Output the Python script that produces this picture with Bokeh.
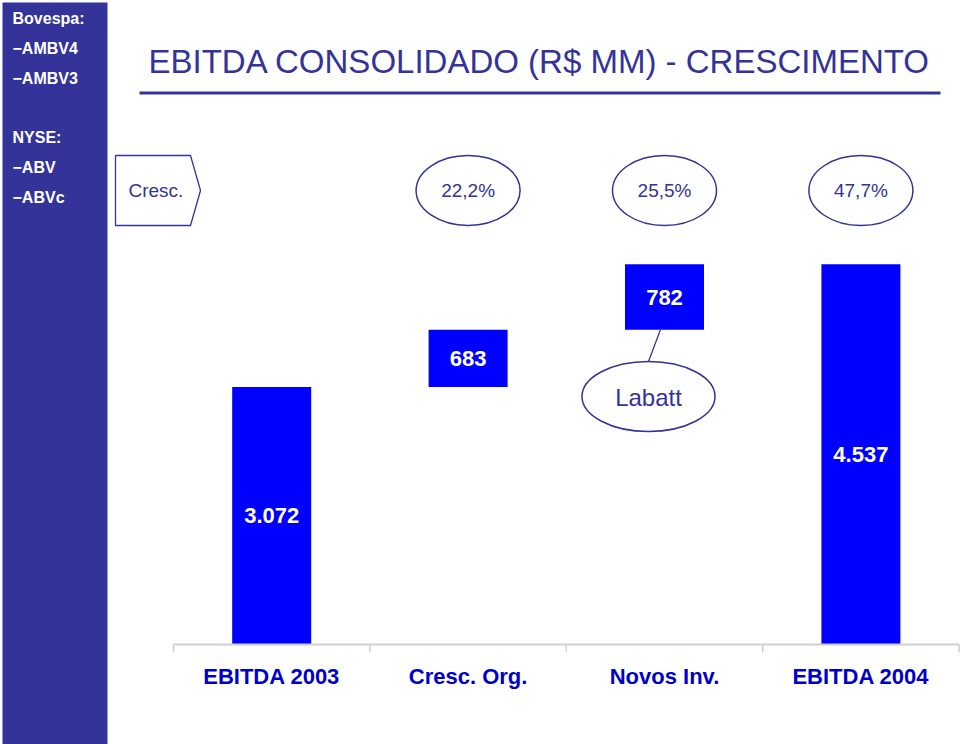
from bokeh.plotting import figure
from bokeh.models import Range1d
from bokeh.core.properties import value
from bokeh.embed import file_html
from bokeh.resources import INLINE

# ---------------- data ----------------
categories = ["EBITDA 2003", "Cresc. Org.", "Novos Inv.", "EBITDA 2004"]
values = [3072, 683, 782, 4537]
value_labels = ["3.072", "683", "782", "4.537"]
growth_labels = ["22,2%", "25,5%", "47,7%"]
title_text = "EBITDA CONSOLIDADO (R$ MM) - CRESCIMENTO"
bovespa = ["Bovespa:", "\u2212AMBV4", "\u2212AMBV3"]
nyse = ["NYSE:", "\u2212ABV", "\u2212ABVc"]
note_text = "Labatt"
row_label = "Cresc."

# waterfall bottoms / tops
bottoms, tops = [], []
running = 0
for i, v in enumerate(values):
    if i == 0 or i == len(values) - 1:
        bottoms.append(0)
        tops.append(v)
        running = v
    else:
        bottoms.append(running)
        running += v
        tops.append(running)
mids = [(b + t) / 2 for b, t in zip(bottoms, tops)]
xs = list(range(len(categories)))

# ---------------- layout (pixel geometry of the page) ----------------
W, H = 960, 744
OFF = 0
cat_w = 196.4          # px per category
x_center0 = 271.2      # page x of first category centre
base_y = 644           # page y of the value axis baseline
k = 0.0838             # px per unit (R$ MM)

x_start = (OFF - x_center0) / cat_w
x_end = (OFF + W - x_center0) / cat_w
y_start = (base_y - (OFF + H)) / k
y_end = (base_y - OFF) / k

p = figure(width=W, height=H, output_backend="svg", toolbar_location=None,
           x_range=Range1d(x_start, x_end), y_range=Range1d(y_start, y_end),
           x_axis_location=None, y_axis_location=None, min_border=0,
           background_fill_color="white", border_fill_color="white")
p.extra_x_ranges = {"px": Range1d(OFF, OFF + W)}
p.extra_y_ranges = {"px": Range1d(OFF + H, OFF)}
p.grid.visible = False
p.outline_line_color = None

NAVY = "#333399"
BLUE = "#0000FF"
LBL = "#0000CC"
ARIAL = value("Liberation Sans")

# sidebar
p.quad(left=[2], right=[107], top=[2], bottom=[760], fill_color=NAVY, line_color=None,
       x_range_name="px", y_range_name="px")
side_texts = bovespa + nyse
side_y = [18, 48, 78, 137, 167, 197]
p.text(x=[12] * len(side_texts), y=side_y, text=side_texts, text_font=ARIAL,
       text_font_size="16px", text_font_style="bold", text_color="white",
       text_align="left", text_baseline="middle", x_range_name="px", y_range_name="px")

# title and underline
p.text(x=[148], y=[61], text=[title_text], text_font=ARIAL, text_font_size="33px",
       text_color=NAVY, text_align="left", text_baseline="middle",
       x_range_name="px", y_range_name="px")
p.segment(x0=[139], y0=[92.5], x1=[940], y1=[92.5], line_color=NAVY, line_width=3,
          x_range_name="px", y_range_name="px")

# "Cresc." pentagon
p.patch(x=[115, 190, 200, 190, 115], y=[155, 155, 190, 225, 225], fill_color="white",
        line_color=NAVY, line_width=1.3, x_range_name="px", y_range_name="px")
p.text(x=[128], y=[190], text=[row_label], text_font=ARIAL, text_font_size="19px",
       text_color=NAVY, text_align="left", text_baseline="middle",
       x_range_name="px", y_range_name="px")

# growth ellipses above categories 1..3
gx = xs[1:]
p.ellipse(x=gx, y=[190] * len(gx), width=[104] * len(gx), height=[70] * len(gx),
          width_units="screen", height_units="screen", fill_color=None,
          line_color=NAVY, line_width=1.5, y_range_name="px")
p.text(x=gx, y=[190] * len(gx), text=growth_labels, text_font=ARIAL,
       text_font_size="19px", text_color=NAVY, text_align="center",
       text_baseline="middle", y_range_name="px")

# bars
p.vbar(x=xs, width=79 / cat_w, bottom=bottoms, top=tops, fill_color=BLUE, line_color=None)
p.text(x=xs, y=mids, text=value_labels, text_font=ARIAL, text_font_size="22px",
       text_font_style="bold", text_color="white", text_align="center",
       text_baseline="middle")

# Labatt callout
p.segment(x0=[660], y0=[329], x1=[648], y1=[361], line_color=NAVY, line_width=1.3,
          x_range_name="px", y_range_name="px")
p.ellipse(x=[648], y=[396], width=[133], height=[70], width_units="screen",
          height_units="screen", fill_color="white", line_color=NAVY, line_width=1.5,
          x_range_name="px", y_range_name="px")
p.text(x=[648], y=[397], text=[note_text], text_font=ARIAL, text_font_size="24px",
       text_color=NAVY, text_align="center", text_baseline="middle",
       x_range_name="px", y_range_name="px")

# category axis (line, boundary ticks, labels)
n = len(categories)
p.segment(x0=[-0.5], y0=[0], x1=[n - 0.5], y1=[0], line_color="#D0D0D0", line_width=2)
ticks = [i - 0.5 for i in range(n + 1)]
p.segment(x0=ticks, y0=[base_y] * len(ticks), x1=ticks, y1=[base_y + 8] * len(ticks),
          line_color="#D0D0D0", line_width=1.5, y_range_name="px")
p.text(x=xs, y=[676] * n, text=categories, text_font=ARIAL, text_font_size="22px",
       text_font_style="bold", text_color=LBL, text_align="center",
       text_baseline="middle", y_range_name="px")

open("out.html", "w").write(file_html(p, INLINE))
